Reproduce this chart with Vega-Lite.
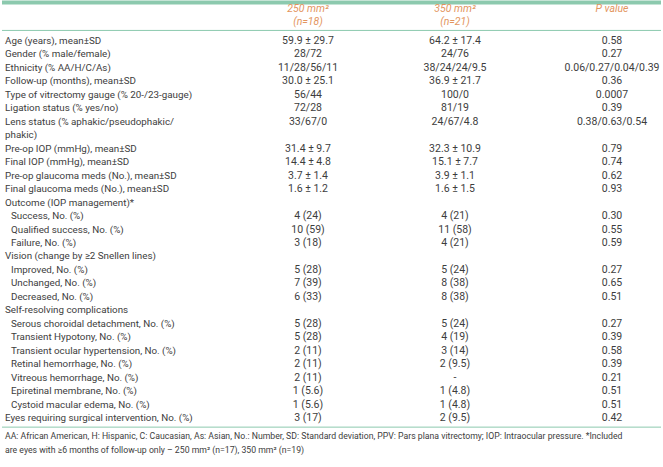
{
  "$schema": "https://vega.github.io/schema/vega-lite/v6.json",
  "width": 663,
  "height": 467,
  "autosize": {"type": "fit", "contains": "padding"},
  "padding": 0,
  "background": "white",
  "config": {"view": {"stroke": null}, "text": {"font": "Roboto", "fontSize": 10.5, "color": "#3d3d3d", "baseline": "middle"}},
  "datasets": {
    "rows": [
      {"r": 1, "lvl": 0, "label": "Age (years), mean±SD", "g250": "59.9 ± 29.7", "g350": "64.2 ± 17.4", "p": "0.58"},
      {"r": 2, "lvl": 0, "label": "Gender (% male/female)", "g250": "28/72", "g350": "24/76", "p": "0.27"},
      {"r": 3, "lvl": 0, "label": "Ethnicity (% AA/H/C/As)", "g250": "11/28/56/11", "g350": "38/24/24/9.5", "p": "0.06/0.27/0.04/0.39"},
      {"r": 4, "lvl": 0, "label": "Follow-up (months), mean±SD", "g250": "30.0 ± 25.1", "g350": "36.9 ± 21.7", "p": "0.36"},
      {"r": 5, "lvl": 0, "label": "Type of vitrectomy gauge (% 20-/23-gauge)", "g250": "56/44", "g350": "100/0", "p": "0.0007"},
      {"r": 6, "lvl": 0, "label": "Ligation status (% yes/no)", "g250": "72/28", "g350": "81/19", "p": "0.39"},
      {"r": 7, "lvl": 0, "label": "Lens status (% aphakic/pseudophakic/", "g250": "33/67/0", "g350": "24/67/4.8", "p": "0.38/0.63/0.54"},
      {"r": 8, "lvl": 0, "label": "phakic)", "g250": "", "g350": "", "p": ""},
      {"r": 9, "lvl": 0, "label": "Pre-op IOP (mmHg), mean±SD", "g250": "31.4 ± 9.7", "g350": "32.3 ± 10.9", "p": "0.79"},
      {"r": 10, "lvl": 0, "label": "Final IOP (mmHg), mean±SD", "g250": "14.4 ± 4.8", "g350": "15.1 ± 7.7", "p": "0.74"},
      {"r": 11, "lvl": 0, "label": "Pre-op glaucoma meds (No.), mean±SD", "g250": "3.7 ± 1.4", "g350": "3.9 ± 1.1", "p": "0.62"},
      {"r": 12, "lvl": 0, "label": "Final glaucoma meds (No.), mean±SD", "g250": "1.6 ± 1.2", "g350": "1.6 ± 1.5", "p": "0.93"},
      {"r": 13, "lvl": 0, "label": "Outcome (IOP management)*", "g250": "", "g350": "", "p": ""},
      {"r": 14, "lvl": 1, "label": "Success, No. (%)", "g250": "4 (24)", "g350": "4 (21)", "p": "0.30"},
      {"r": 15, "lvl": 1, "label": "Qualified success, No. (%)", "g250": "10 (59)", "g350": "11 (58)", "p": "0.55"},
      {"r": 16, "lvl": 1, "label": "Failure, No. (%)", "g250": "3 (18)", "g350": "4 (21)", "p": "0.59"},
      {"r": 17, "lvl": 0, "label": "Vision (change by ≥2 Snellen lines)", "g250": "", "g350": "", "p": ""},
      {"r": 18, "lvl": 1, "label": "Improved, No. (%)", "g250": "5 (28)", "g350": "5 (24)", "p": "0.27"},
      {"r": 19, "lvl": 1, "label": "Unchanged, No. (%)", "g250": "7 (39)", "g350": "8 (38)", "p": "0.65"},
      {"r": 20, "lvl": 1, "label": "Decreased, No. (%)", "g250": "6 (33)", "g350": "8 (38)", "p": "0.51"},
      {"r": 21, "lvl": 0, "label": "Self-resolving complications", "g250": "", "g350": "", "p": ""},
      {"r": 22, "lvl": 1, "label": "Serous choroidal detachment, No. (%)", "g250": "5 (28)", "g350": "5 (24)", "p": "0.27"},
      {"r": 23, "lvl": 1, "label": "Transient Hypotony, No. (%)", "g250": "5 (28)", "g350": "4 (19)", "p": "0.39"},
      {"r": 24, "lvl": 1, "label": "Transient ocular hypertension, No. (%)", "g250": "2 (11)", "g350": "3 (14)", "p": "0.58"},
      {"r": 25, "lvl": 1, "label": "Retinal hemorrhage, No. (%)", "g250": "2 (11)", "g350": "2 (9.5)", "p": "0.39"},
      {"r": 26, "lvl": 1, "label": "Vitreous hemorrhage, No. (%)", "g250": "2 (11)", "g350": "-", "p": "0.21"},
      {"r": 27, "lvl": 1, "label": "Epiretinal membrane, No. (%)", "g250": "1 (5.6)", "g350": "1 (4.8)", "p": "0.51"},
      {"r": 28, "lvl": 1, "label": "Cystoid macular edema, No. (%)", "g250": "1 (5.6)", "g350": "1 (4.8)", "p": "0.51"},
      {"r": 29, "lvl": 0, "label": "Eyes requiring surgical intervention, No. (%)", "g250": "3 (17)", "g350": "2 (9.5)", "p": "0.42"}
    ],
    "head": [
      {"r": -1, "g250": "250 mm²", "g350": "350 mm²", "p": "P value"},
      {"r": 0, "g250": "(n=18)", "g350": "(n=21)", "p": ""}
    ],
    "notes": [
      {"r": 30, "text": "AA: African American, H: Hispanic, C: Caucasian, As: Asian, No.: Number, SD: Standard deviation, PPV: Pars plana vitrectomy; IOP: Intraocular pressure. *Included"},
      {"r": 31, "text": "are eyes with ≥6 months of follow-up only – 250 mm² (n=17), 350 mm² (n=19)"}
    ],
    "lines": [
      {"pos": -1.852, "w": 3},
      {"pos": 0.222, "w": 1},
      {"pos": 29.67, "w": 1}
    ]
  },
  "layer": [
    {
      "data": {"name": "lines"},
      "mark": {"type": "rule", "color": "#8cc9ae"},
      "encoding": {
        "y": {"field": "pos", "type": "quantitative", "scale": {"domain": [-1.963, 32.63], "reverse": true, "nice": false, "zero": false}, "axis": null},
        "strokeWidth": {"field": "w", "type": "quantitative", "scale": {"type": "identity"}, "legend": null}
      }
    },
    {
      "data": {"name": "rows"},
      "transform": [{"filter": "datum.lvl == 0"}],
      "mark": {"type": "text", "align": "left", "fontSize": 9.8},
      "encoding": {
        "x": {"datum": 0, "type": "quantitative", "scale": {"domain": [0, 1, 2, 3], "range": [3, 306, 453, 610], "nice": false, "zero": false}, "axis": null},
        "y": {"field": "r", "type": "quantitative", "axis": null},
        "text": {"field": "label"}
      }
    },
    {
      "data": {"name": "rows"},
      "transform": [{"filter": "datum.lvl == 1"}],
      "mark": {"type": "text", "align": "left", "dx": 6, "fontSize": 9.8},
      "encoding": {
        "x": {"datum": 0, "type": "quantitative"},
        "y": {"field": "r", "type": "quantitative"},
        "text": {"field": "label"}
      }
    },
    {
      "data": {"name": "rows"},
      "mark": {"type": "text", "align": "center"},
      "encoding": {
        "x": {"datum": 1, "type": "quantitative"},
        "y": {"field": "r", "type": "quantitative"},
        "text": {"field": "g250"}
      }
    },
    {
      "data": {"name": "rows"},
      "mark": {"type": "text", "align": "center"},
      "encoding": {
        "x": {"datum": 2, "type": "quantitative"},
        "y": {"field": "r", "type": "quantitative"},
        "text": {"field": "g350"}
      }
    },
    {
      "data": {"name": "rows"},
      "mark": {"type": "text", "align": "center"},
      "encoding": {
        "x": {"datum": 3, "type": "quantitative"},
        "y": {"field": "r", "type": "quantitative"},
        "text": {"field": "p"}
      }
    },
    {
      "data": {"name": "head"},
      "mark": {"type": "text", "align": "center", "fontStyle": "italic", "color": "#e3955e", "dy": -5},
      "encoding": {
        "x": {"datum": 1, "type": "quantitative"},
        "y": {"field": "r", "type": "quantitative"},
        "text": {"field": "g250"}
      }
    },
    {
      "data": {"name": "head"},
      "mark": {"type": "text", "align": "center", "fontStyle": "italic", "color": "#e3955e", "dy": -5},
      "encoding": {
        "x": {"datum": 2, "type": "quantitative"},
        "y": {"field": "r", "type": "quantitative"},
        "text": {"field": "g350"}
      }
    },
    {
      "data": {"name": "head"},
      "mark": {"type": "text", "align": "center", "fontStyle": "italic", "color": "#e3955e", "dy": -5},
      "encoding": {
        "x": {"datum": 3, "type": "quantitative"},
        "y": {"field": "r", "type": "quantitative"},
        "text": {"field": "p"}
      }
    },
    {
      "data": {"name": "notes"},
      "mark": {"type": "text", "align": "left", "fontSize": 8.7, "dy": 4.5},
      "encoding": {
        "x": {"datum": 0, "type": "quantitative"},
        "y": {"field": "r", "type": "quantitative"},
        "text": {"field": "text"}
      }
    }
  ]
}
